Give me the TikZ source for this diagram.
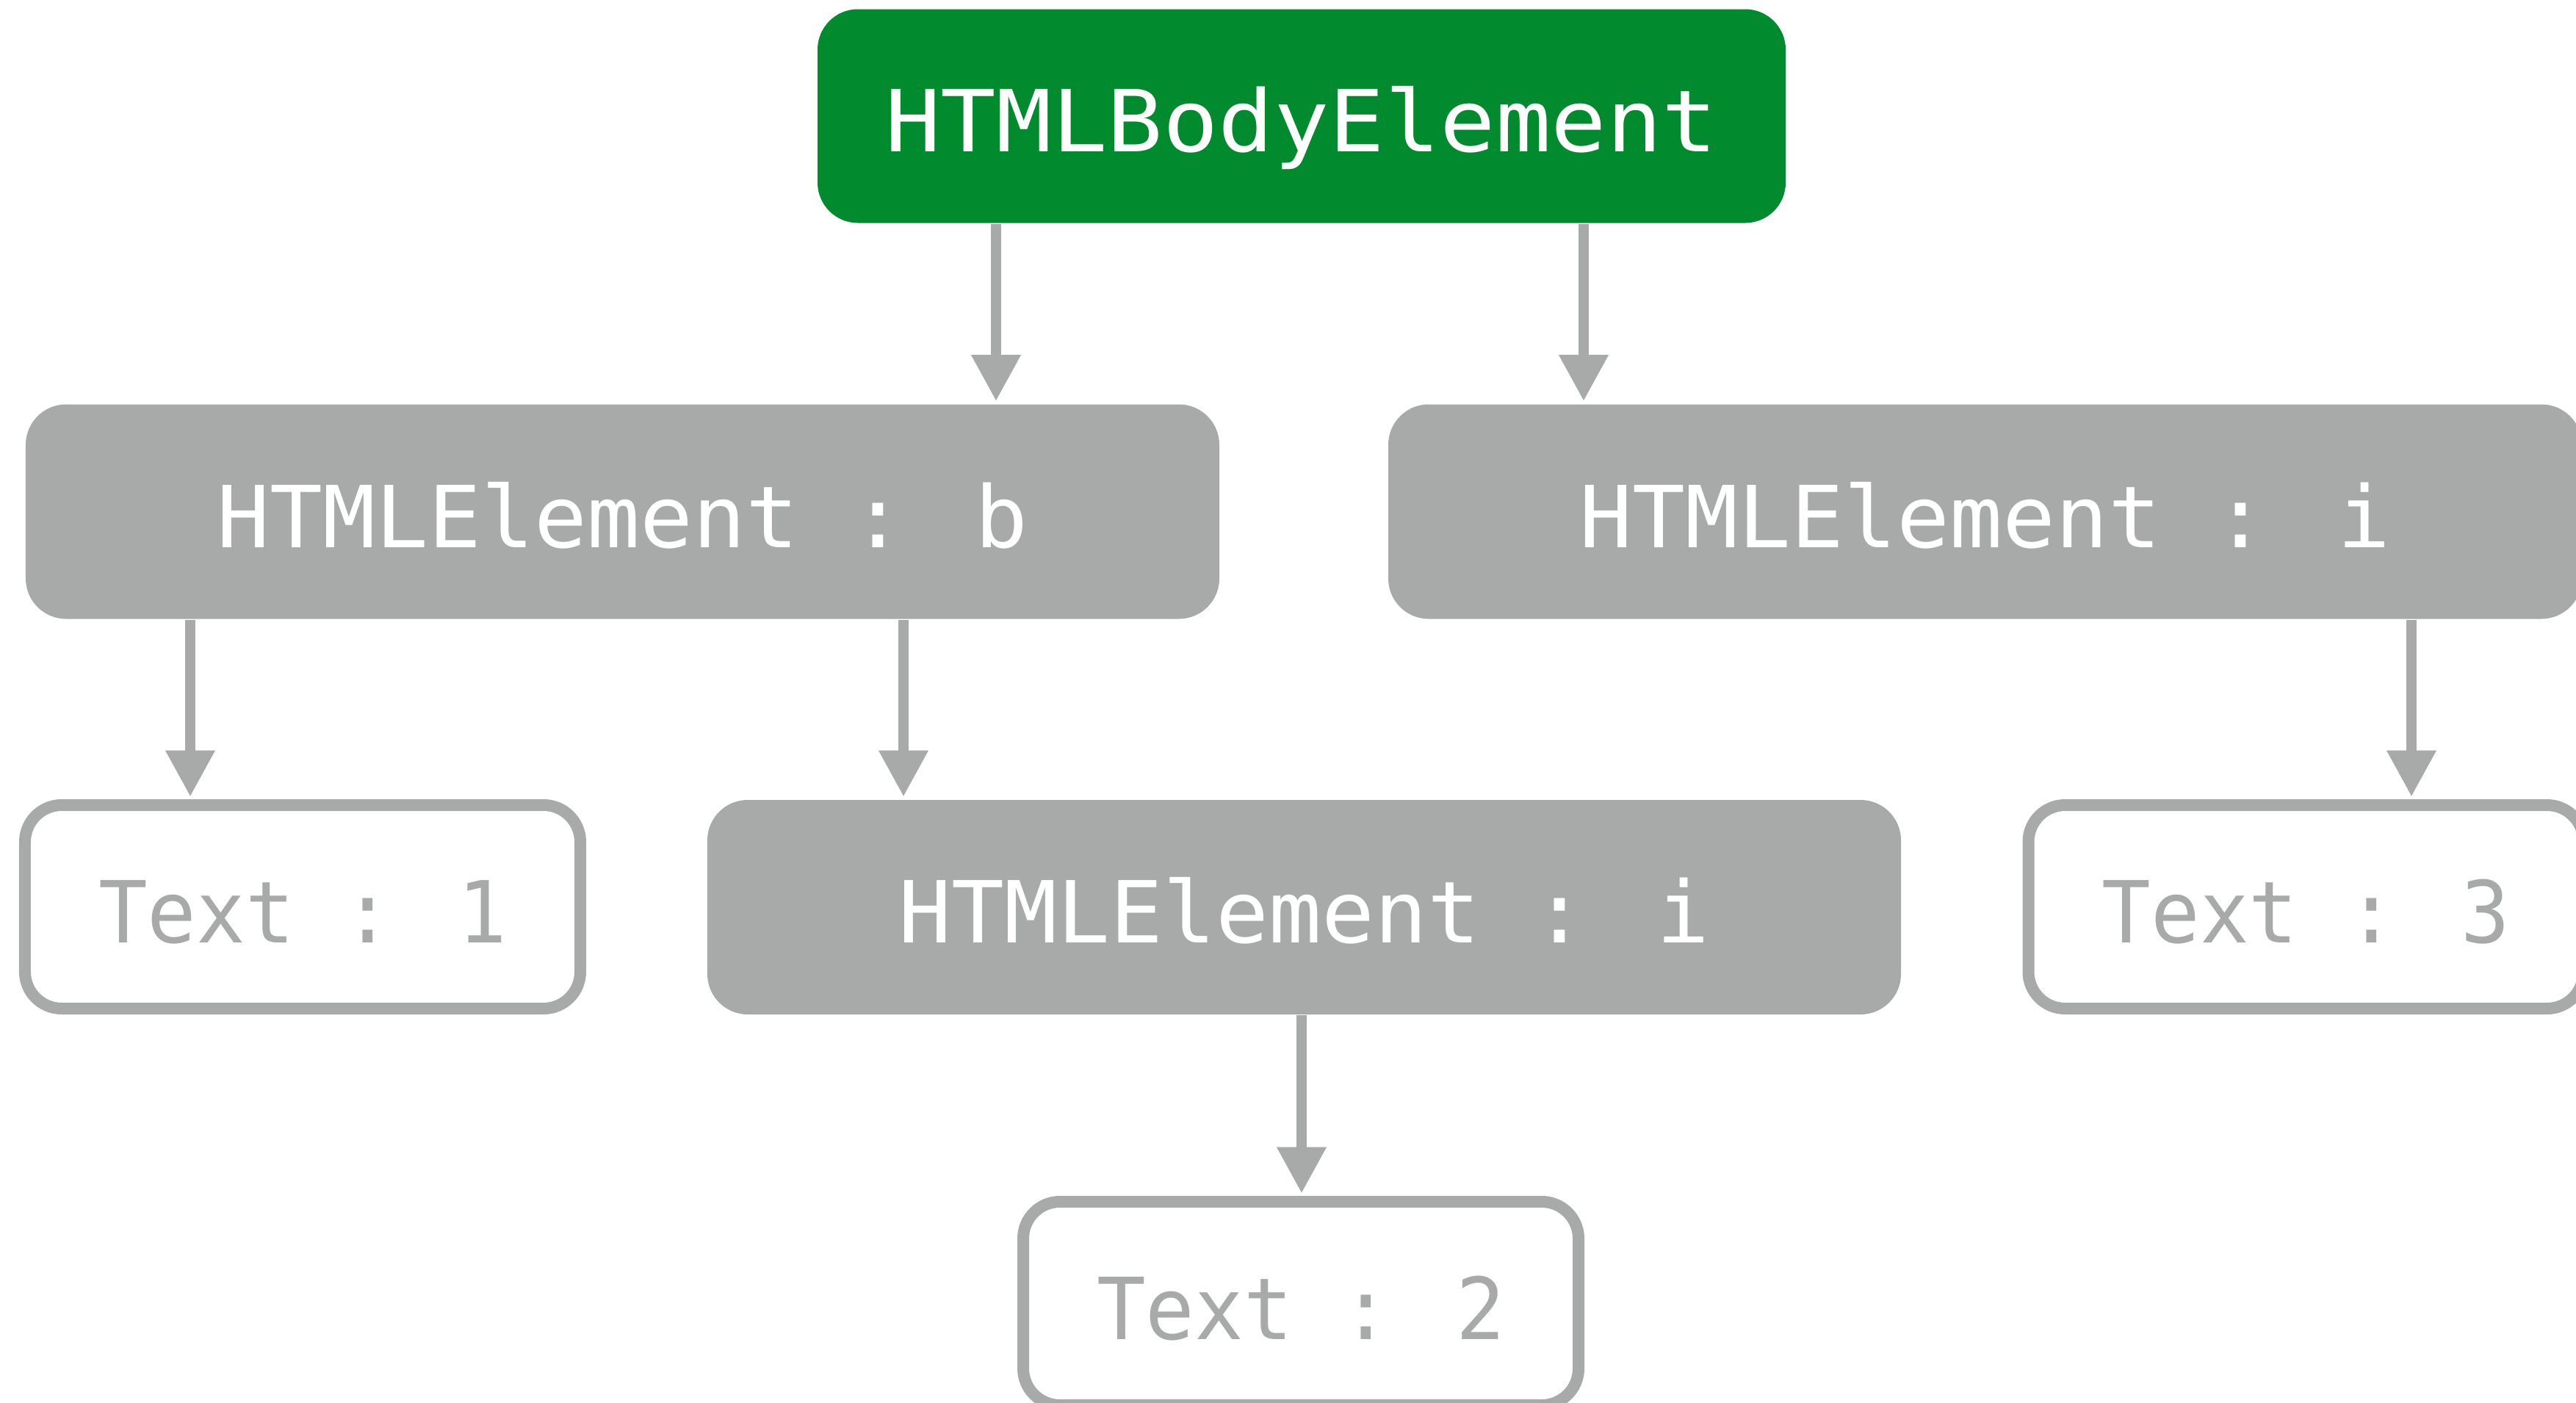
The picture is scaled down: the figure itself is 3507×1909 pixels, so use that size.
\documentclass[tikz,border=0pt]{standalone}
\usepackage{fontspec}
\newfontfamily\boxfont{DejaVu Sans Mono}
\usetikzlibrary{arrows.meta}

\definecolor{bodygreen}{HTML}{028A2E}
\definecolor{elemgray}{HTML}{A7AAA9}

\tikzset{
  base/.style={rounded corners=11pt, inner sep=0pt, align=center,
    text height=19.4pt, text depth=0pt},
  labelfont/.style={font={\boxfont\fontsize{23.3pt}{28pt}\selectfont\addfontfeature{FakeStretch=#1}}},
  bodybox/.style={base, labelfont=1.077, fill=bodygreen, text=white,
    minimum width=263.6pt, minimum height=58.2pt},
  elembox/.style={base, labelfont=1.026, fill=elemgray, text=white,
    minimum width=325pt, minimum height=58.4pt},
  textbox/.style={base, labelfont=0.951, draw=elemgray, line width=3.2pt,
    fill=white, text=elemgray, rounded corners=10pt,
    minimum width=151.2pt, minimum height=55.4pt},
  link/.style={draw=elemgray, line width=2.8pt, shorten >=0.7pt,
    -{Triangle[length=12.6pt,width=12.8pt]}},
}

\begin{document}
\begin{tikzpicture}[x=0.2pt,y=-0.2pt]
  \clip (0,0) rectangle (3507,1909);
  \fill[white] (0,0) rectangle (3507,1909);

  % tree of DOM nodes
  \node[bodybox] (body) at (1772,158)     {HTMLBodyElement};
  \node[elembox] (eb)   at (847.5,696.5)  {HTMLElement : b};
  \node[elembox] (ei)   at (2702.5,696.5) {HTMLElement : i};
  \node[textbox] (t1)   at (412,1234.5)   {Text : 1};
  \node[elembox] (ei2)  at (1775.5,1235)  {HTMLElement : i};
  \node[textbox] (t3)   at (3139.5,1234.5){Text : 3};
  \node[textbox] (t2)   at (1771,1774.5)  {Text : 2};

  % x positions of the vertical links
  \coordinate (xa) at (1356,0);
  \coordinate (xb) at (2156,0);
  \coordinate (xc) at (259,0);
  \coordinate (xd) at (1230,0);
  \coordinate (xe) at (3283,0);
  \coordinate (xf) at (1772,0);

  \draw[link] (body.south -| xa) -- (eb.north -| xa);
  \draw[link] (body.south -| xb) -- (ei.north -| xb);
  \draw[link] (eb.south -| xc) -- (t1.north -| xc);
  \draw[link] (eb.south -| xd) -- (ei2.north -| xd);
  \draw[link] (ei.south -| xe) -- (t3.north -| xe);
  \draw[link] (ei2.south -| xf) -- (t2.north -| xf);
\end{tikzpicture}
\end{document}
